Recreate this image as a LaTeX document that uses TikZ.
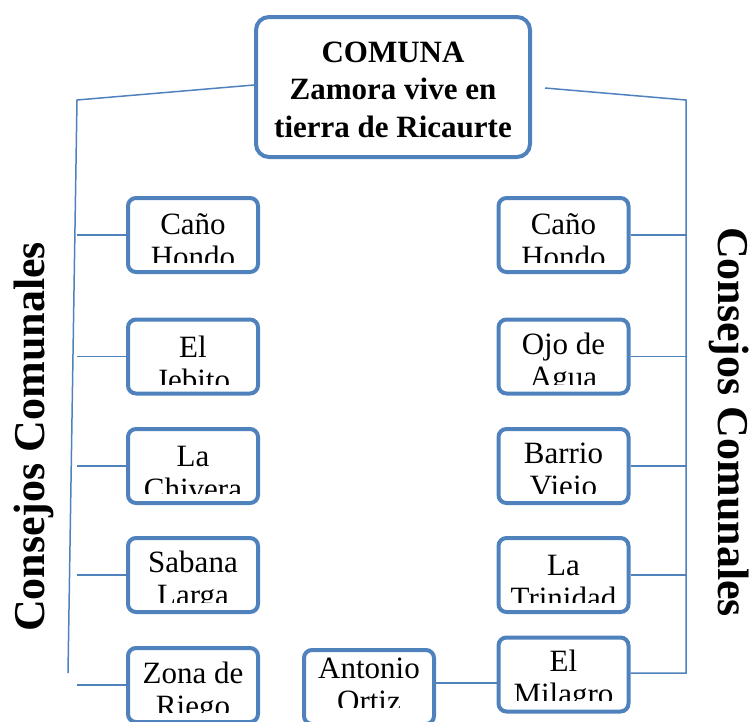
\documentclass[tikz,border=0pt]{standalone}
\usepackage{fontspec}
\setmainfont{Liberation Serif}
\usetikzlibrary{calc}

\begin{document}
\begin{tikzpicture}[x=1pt,y=-1pt]
    \definecolor{boxblue}{HTML}{4F81BD}
    \tikzstyle{link}  = [line width=1.5pt,draw=boxblue]
    \tikzstyle{title}=[
      draw=boxblue,
      line width=4pt,
      rounded corners=13pt,
      minimum width=274pt,
      minimum height=140pt,
      inner sep=0pt,
      align=center,
      font={\bfseries\fontsize{31}{37.5}\selectfont},
    ]
    \tikzset{
      council gap/.store in=\councilgap,
      council gap=-4pt,
      council cut/.store in=\councilcut,
      council cut=9.5pt,
      council/.style={
        draw=boxblue,
        line width=4pt,
        rounded corners=8pt,
        minimum width=130pt,
        minimum height=74pt,
        inner sep=0pt,
        path picture={
          \clip (path picture bounding box.north west) rectangle
            ([yshift=\councilcut]path picture bounding box.south east);
          \node[anchor=north,inner sep=0pt,align=center,
            font={\fontsize{31}{33}\selectfont}]
            at ([yshift=\councilgap]path picture bounding box.north) {\strut #1};
        },
      },
    }
    \tikzstyle{sidelabel}=[
      anchor=base,
      inner sep=0pt,
      font={\bfseries\fontsize{44}{50}\selectfont},
    ]

    \useasboundingbox (0,0) rectangle (753,721);

    \coordinate (leftAnchor) at (193,235);
    \coordinate (rightAnchor) at (563.5,235);

    % comuna
    \node[title] (comuna) at (393,87) {\strut COMUNA\\Zamora vive en\\tierra de Ricaurte};

    % left councils
    {
      \node[council={Caño\\Hondo}, council gap=-3pt] (left1) at ([yshift=0pt] leftAnchor) {};
      \node[council={El\\Jebito}] (left2) at ([yshift=-121.5pt] leftAnchor) {};
      \node[council={La\\Chivera}] (left3) at ([yshift=-231pt] leftAnchor) {};
      \node[council={Sabana\\Larga}] (left4) at ([yshift=-340pt] leftAnchor) {};
      \node[council={Zona de\\Riego}, council gap=-5pt] (left5) at ([yshift=-450pt] leftAnchor) {};
    }

    % right councils
    {
      \node[council={Caño\\Hondo}, council gap=-3pt] (right1) at ([yshift=0pt] rightAnchor) {};
      \node[council={Ojo de\\Agua}] (right2) at ([yshift=-121.5pt] rightAnchor) {};
      \node[council={Barrio\\Viejo}] (right3) at ([yshift=-231pt] rightAnchor) {};
      \node[council={La\\Trinidad}] (right4) at ([yshift=-340pt] rightAnchor) {};
      \node[council={El\\Milagro}, council gap=-3pt, council cut=11pt] (right5) at ([yshift=-439.5pt] rightAnchor) {};
      \node[council={Antonio\\Ortiz}, council gap=5pt, council cut=17pt] (right6) at ([xshift=-194.5pt, yshift=-452pt] rightAnchor) {};
    }

    % side labels
    \node[sidelabel, rotate=90] (leftLabel) at (45,437) {Consejos Comunales};
    \node[sidelabel, rotate=-90] (rightLabel) at (718,422) {Consejos Comunales};

    % spines
    \coordinate (leftTop) at (77,100);
    \coordinate (leftBottom) at (68,673);
    \coordinate (rightStart) at ([xshift=13pt, yshift=-1pt] comuna.east);
    \coordinate (rightTop) at (686,100);
    \coordinate (rightBottom) at (686,673);

    \draw[link] ([yshift=2pt] comuna.west)--(leftTop)--(leftBottom);
    \draw[link] (rightStart)--(rightTop)--(rightBottom)--(rightBottom -| right5.east);

    \draw[link] (left1.west)--(left1.west -| leftTop);
    \draw[link] (left2.west)--(left2.west -| leftTop);
    \draw[link] (left3.west)--(left3.west -| leftTop);
    \draw[link] (left4.west)--(left4.west -| leftTop);
    \draw[link] (left5.west)--(left5.west -| leftTop);

    \draw[link] (right1.east)--(right1.east -| rightTop);
    \draw[link] (right2.east)--(right2.east -| rightTop);
    \draw[link] (right3.east)--(right3.east -| rightTop);
    \draw[link] (right4.east)--(right4.east -| rightTop);

    \draw[link] ([yshift=4pt] right6.east)--([yshift=4pt] right6.east -| right5.west);
  \end{tikzpicture}
\end{document}
